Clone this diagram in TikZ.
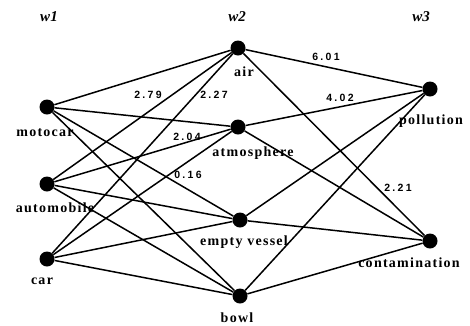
\documentclass[tikz,border=0pt]{standalone}
\usepackage{fontspec}
\setmainfont{Liberation Serif}
\newfontfamily\wordfont[LetterSpace=9]{Liberation Serif}
\newfontfamily\numfont[LetterSpace=22]{Liberation Sans}
\usetikzlibrary{positioning}

\begin{document}
\begin{tikzpicture}[x=1pt, y=-1pt,
    word/.style={circle, fill=black, inner sep=0pt, minimum size=15pt},
    wordlbl/.style={font=\wordfont\bfseries\fontsize{14}{16}\selectfont, inner sep=0pt},
    weight/.style={font=\numfont\bfseries\fontsize{10.5}{12}\selectfont, inner sep=0pt},
    layer/.style={font=\bfseries\itshape\fontsize{15}{17}\selectfont, inner sep=0pt}]
    \useasboundingbox (0,0) rectangle (470,325);

    % Layer titles
    \node[layer] (w1) at (49,17) {w1};
    \node[layer] (w2) at (237,17) {w2};
    \node[layer] (w3) at (421,17) {w3};

    % Words of the three layers
    \node[word] (motocar) at (47,107) {};
    \node[word] (automobile) at (47,184) {};
    \node[word] (car) at (47,259) {};
    \node[word] (air) at (238,48) {};
    \node[word] (atmosphere) at (238,127) {};
    \node[word] (vessel) at (240,220) {};
    \node[word] (bowl) at (240,296) {};
    \node[word] (pollution) at (430,89) {};
    \node[word] (contamination) at (430,241) {};

    % Links between the layers
    \foreach \a in {motocar,automobile,car}
        \foreach \b in {air,atmosphere,vessel,bowl}
        \draw[line width=1.5pt] (\a) -- (\b);
    \foreach \a in {air,atmosphere,vessel,bowl}
        \foreach \b in {pollution,contamination}
        \draw[line width=1.5pt] (\a) -- (\b);

    % Word labels
    \node[wordlbl] (motocarlbl) at (45,133) {motocar};
    \node[wordlbl] (automobilelbl) at (55,208) {automobile};
    \node[wordlbl] (carlbl) at (42,281) {car};
    \node[wordlbl] (airlbl) at (244,72) {air};
    \node[wordlbl] (atmospherelbl) at (253,153) {atmosphere};
    \node[wordlbl] (vessellbl) at (244,242) {empty vessel};
    \node[wordlbl] (bowllbl) at (237,318) {bowl};
    \node[wordlbl] (pollutionlbl) at (431,121) {pollution};
    \node[wordlbl] (contaminationlbl) at (409,263) {contamination};

    % Weights
    \node[weight] (wa) at (148,95) {2.79};
    \node[weight] (wb) at (214,95) {2.27};
    \node[weight] (wc) at (187,137) {2.04};
    \node[weight] (wd) at (188,175) {0.16};
    \node[weight] (we) at (326,57) {6.01};
    \node[weight] (wf) at (340,98) {4.02};
    \node[weight] (wg) at (398,188) {2.21};
\end{tikzpicture}
\end{document}
